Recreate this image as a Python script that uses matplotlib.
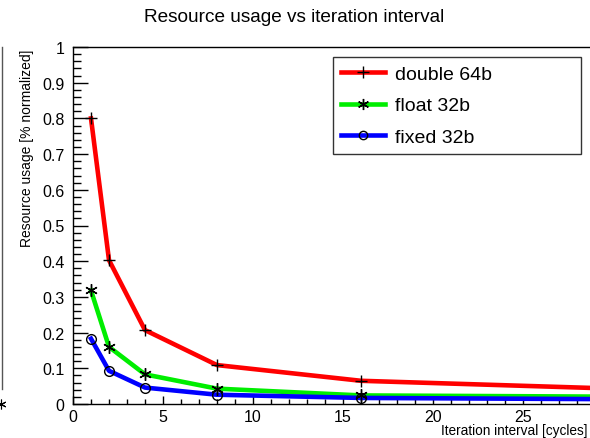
import matplotlib
matplotlib.use('Agg')
import matplotlib.pyplot as plt
from matplotlib.ticker import MultipleLocator, FuncFormatter
from matplotlib.lines import Line2D

plt.rcParams['font.family'] = ['Liberation Sans', 'DejaVu Sans']

# data
intervals = [1, 2, 4, 8, 16, 32]
double_64b = [0.80, 0.403, 0.207, 0.109, 0.065, 0.040]
float_32b = [0.318, 0.160, 0.083, 0.043, 0.024, 0.020]
fixed_32b = [0.183, 0.093, 0.046, 0.026, 0.017, 0.013]
series_names = ['double 64b', 'float 32b', 'fixed 32b']

W, H = 590, 439
fig = plt.figure(figsize=(W / 100, H / 100), dpi=100)

# ROOT-like frame, runs off the right edge of the picture
ax = fig.add_axes([73 / W, 34 / H, 34 * 18.0 / W, 357 / H])
ax.set_xlim(0, 34)
ax.set_ylim(0, 1)

styles = [
    (double_64b, 'red', '+', 9),
    (float_32b, '#00ee00', (6, 2, 0), 9),
    (fixed_32b, 'blue', 'o', 7),
]
handles = []
for (vals, col, mk, ms), name in zip(styles, series_names):
    ax.plot(intervals, vals, color=col, lw=3.3, zorder=2)
    ax.plot(intervals, vals, ls='none', marker=mk, ms=ms, mfc='none',
            mec='black', mew=1.0, zorder=3)
    handles.append(Line2D([], [], color=col, lw=3.3, marker=mk, ms=ms - 1,
                          mfc='none', mec='black', mew=1.0))

# ticks
ax.xaxis.set_major_locator(MultipleLocator(5))
ax.xaxis.set_minor_locator(MultipleLocator(1))
ax.xaxis.set_major_formatter(FuncFormatter(lambda v, p: '%g' % v if v < 29 else ''))  # labels past the picture edge stay empty
ax.yaxis.set_major_locator(MultipleLocator(0.1))
ax.yaxis.set_minor_locator(MultipleLocator(0.02))
ax.yaxis.set_major_formatter(FuncFormatter(lambda v, p: '%g' % round(v, 2)))
ax.tick_params(axis='y', which='major', direction='in', length=10.8, width=1, pad=6, labelsize=11.5)
ax.tick_params(axis='y', which='minor', direction='in', length=5.8, width=1)
ax.tick_params(axis='x', which='major', direction='in', length=5.8, width=1, pad=3.5, labelsize=11.5)
ax.tick_params(axis='x', which='minor', direction='in', length=3.6, width=1)
for s in ax.spines.values():
    s.set_linewidth(1)

# legend box, stretched to the width of the reference box
leg = ax.legend(handles, series_names, loc='upper left', mode='expand',
                bbox_to_anchor=(333 / W, 1 - 153 / H, 248 / W, 95 / H),
                bbox_transform=fig.transFigure,
                borderaxespad=0, fancybox=False, frameon=True, fontsize=14,
                handlelength=2.27, handletextpad=0.5, numpoints=1,
                labelspacing=0.72, borderpad=0.42)
leg.get_frame().set_edgecolor('black')
leg.get_frame().set_linewidth(1)

# titles
fig.text(294 / W, 1 - 18 / H, 'Resource usage vs iteration interval',
         ha='center', va='center', fontsize=13.7)
fig.text(27 / W, 1 - 50 / H, 'Resource usage [% normalized]', rotation=90,
         ha='center', va='top', fontsize=10)
fig.text(441 / W, 1 - 431 / H, 'Iteration interval [cycles]',
         ha='left', va='center', fontsize=9.8)

# edge of the neighbouring pad
fig.add_artist(Line2D([1.5 / W, 1.5 / W], [1 - 48 / H, 1 - 390 / H], color='#555555', lw=1))
fig.add_artist(Line2D([1 / W], [1 - 405 / H], marker=(6, 2, 0), ms=7, color='black', mew=0.8))

fig.savefig('out.png', dpi=100)
